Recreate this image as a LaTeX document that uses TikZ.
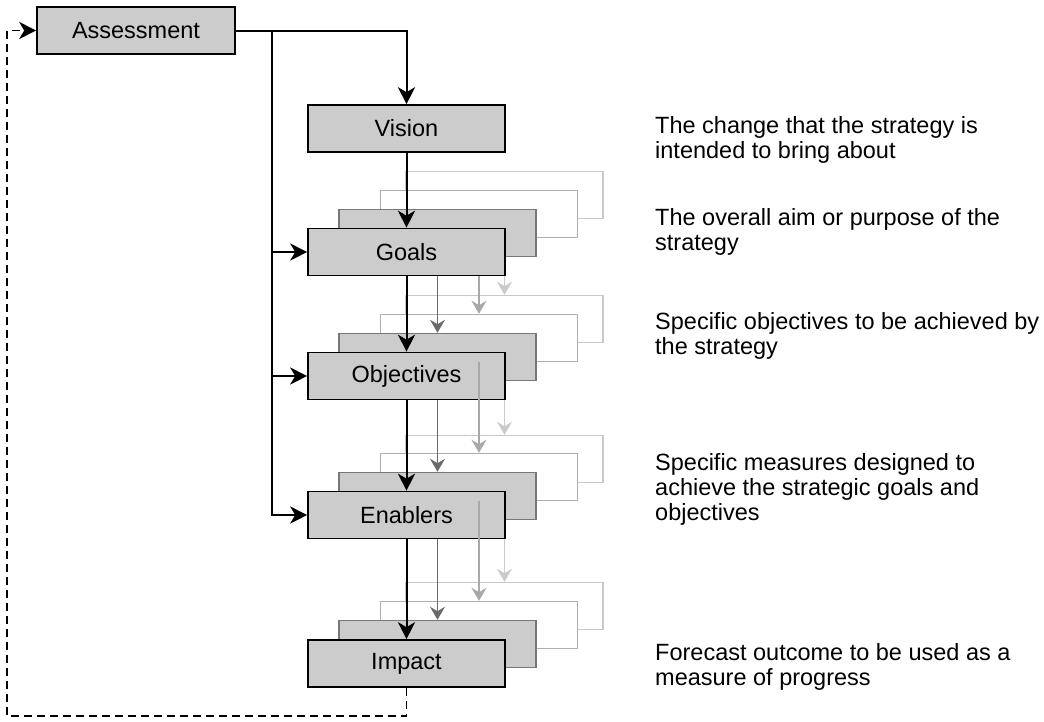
\documentclass[tikz,border=0pt]{standalone}
\usepackage{fontspec}
\setmainfont{Liberation Sans}
\usetikzlibrary{arrows.meta}
\definecolor{boxfill}{HTML}{CCCCCC}
\definecolor{layAline}{HTML}{777777}
\definecolor{layBline}{HTML}{AFAFAF}
\definecolor{layCline}{HTML}{C8C8C8}
\definecolor{arrA}{HTML}{6A6A6A}
\definecolor{arrB}{HTML}{A8A8A8}
\definecolor{arrC}{HTML}{CACACA}
\tikzset{
  lbl/.style={font=\fontsize{23.5}{26}\selectfont},
  box/.style={draw=black, line width=1.6pt, fill=boxfill, minimum width=197pt, minimum height=47pt, inner sep=0pt, lbl},
  layA/.style={draw=layAline, line width=1.5pt, fill=boxfill, minimum width=197pt, minimum height=47pt, inner sep=0pt},
  layB/.style={draw=layBline, line width=1.5pt, fill=white, minimum width=197pt, minimum height=47pt, inner sep=0pt},
  layC/.style={draw=layCline, line width=1.5pt, fill=white, minimum width=197pt, minimum height=47pt, inner sep=0pt},
  blkhead/.tip={Stealth[length=17pt,width=17pt,inset=5pt]},
  grayhead/.tip={Stealth[length=13pt,width=15pt,inset=4.5pt]},
  blk/.style={draw=black, line width=2pt, -blkhead},
  garrA/.style={draw=arrA, line width=1.7pt, -grayhead},
  garrB/.style={draw=arrB, line width=1.7pt, -grayhead},
  garrC/.style={draw=arrC, line width=1.7pt, -grayhead},
  fback/.style={draw=black, line width=1.8pt, dash pattern=on 8pt off 5pt, -blkhead},
  desc/.style={anchor=west, align=left, inner sep=0pt, font=\fontsize{23.5}{25}\selectfont}
}
\begin{document}
\begin{tikzpicture}[x=1pt,y=-1pt]
\useasboundingbox (0,0) rectangle (1044,721);

% Assessment and Vision
\node[box, minimum width=198pt] (assess) at (136,30.5) {Assessment};
\node[box] (vision) at (406.5,128.5) {Vision};

% Goals stage
\node[layC] (goalsC) at (504.5,195) {};
\node[layB] (goalsB) at (479,214) {};
\node[layA] (goalsA) at (437.5,233) {};
\node[box] (goals) at (406.5,252) {Goals};

% Objectives stage
\node[layC] (objC) at (504.5,319) {};
\node[layB] (objB) at (479,338) {};
\node[layA] (objA) at (437.5,357) {};
\node[box] (obj) at (406.5,376) {Objectives};

% Enablers stage
\node[layC] (enaC) at (504.5,459) {};
\node[layB] (enaB) at (479,477) {};
\node[layA] (enaA) at (437.5,496) {};
\node[box] (ena) at (406.5,515) {Enablers};

% Impact stage
\node[layC] (impC) at (504.5,606) {};
\node[layB] (impB) at (479,625) {};
\node[layA] (impA) at (437.5,644) {};
\node[box] (imp) at (406.5,663.5) {Impact};

% Main connectors
\coordinate (bx) at (272,30.5);
\draw[blk] (assess.east) -| (vision.north);
\draw[blk] (bx) |- (goals.west);
\draw[blk] (bx) |- (obj.west);
\draw[blk] (bx) |- (ena.west);
\draw[blk] (vision.south) -- (goals.north);

% Goals -> Objectives
\draw[blk] (goals.south) -- (obj.north);
\draw[garrA] (goals.south -| goalsA.south) -- (objA.north);
\draw[garrB] (goals.south -| goalsB.south) -- (objB.north);
\draw[garrC] (goals.south -| goalsC.south) -- (objC.north);

% Objectives -> Enablers
\draw[blk] (obj.south) -- (ena.north);
\draw[garrA] (obj.south -| objA.south) -- (enaA.north);
\draw[garrB] (objB.south) -- (enaB.north);
\draw[garrC] (obj.south -| objC.south) -- (enaC.north);

% Enablers -> Impact
\draw[blk] (ena.south) -- (imp.north);
\draw[garrA] (ena.south -| enaA.south) -- (impA.north);
\draw[garrB] (enaB.south) -- (impB.north);
\draw[garrC] (ena.south -| enaC.south) -- (impC.north);

% Feedback loop
\coordinate (fb) at (7,716);
\draw[fback] (imp.south) |- (fb) |- (assess.west);

% Descriptions
\node[desc] (d1) at (655,140) {The change that the strategy is\\intended to bring about};
\node[desc] (d2) at (655,232) {The overall aim or purpose of the\\strategy};
\node[desc] (d3) at (655,336) {Specific objectives to be achieved by\\the strategy};
\node[desc] (d4) at (655,489) {Specific measures designed to\\achieve the strategic goals and\\objectives};
\node[desc] (d5) at (655,667) {Forecast outcome to be used as a\\measure of progress};
\end{tikzpicture}
\end{document}
